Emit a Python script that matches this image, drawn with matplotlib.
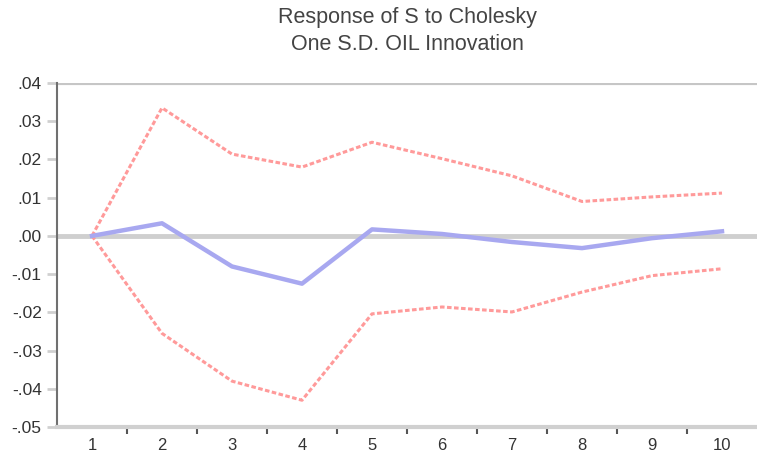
import matplotlib.pyplot as plt
from matplotlib.ticker import FixedLocator

plt.rcParams['font.family'] = ['Liberation Sans', 'DejaVu Sans']

# Dados
periodos = [1, 2, 3, 4, 5, 6, 7, 8, 9, 10]
resposta = [0.0, 0.0033, -0.008, -0.0125, 0.0017, 0.0005, -0.0016, -0.0032, -0.0006, 0.0012]
banda_sup = [0.0, 0.0335, 0.0214, 0.0180, 0.0245, 0.0202, 0.0157, 0.0090, 0.0102, 0.0112]
banda_inf = [0.0, -0.0255, -0.0380, -0.0430, -0.0204, -0.0186, -0.0199, -0.0147, -0.0104, -0.0086]

y_ticks = [0.04, 0.03, 0.02, 0.01, 0.0, -0.01, -0.02, -0.03, -0.04, -0.05]
y_labels = [".04", ".03", ".02", ".01", ".00", "-.01", "-.02", "-.03", "-.04", "-.05"]

fig = plt.figure(figsize=(7.57, 4.57), dpi=100)
ax = fig.add_axes([57 / 757, 1 - 427 / 457, 700 / 757, 344 / 457])

# Linhas de referência (zero e borda superior)
ax.axhline(0, color="#cfcfcf", lw=3.5, zorder=1)
ax.axhline(0.04, color="#c6c6c6", lw=3.0, zorder=1)

ax.plot(periodos, banda_sup, color="#ff9a9a", lw=2.2, ls=(0, (1.5, 0.8)), zorder=2)
ax.plot(periodos, banda_inf, color="#ff9a9a", lw=2.2, ls=(0, (1.5, 0.8)), zorder=2)
ax.plot(periodos, resposta, color="#a8a8f0", lw=3.2, zorder=3)

ax.set_xlim(0.5, 10.5)
ax.set_ylim(-0.05, 0.04)

ax.set_xticks(periodos)
ax.set_xticklabels([str(p) for p in periodos])
ax.xaxis.set_minor_locator(FixedLocator([p + 0.5 for p in periodos[:-1]]))
ax.tick_params(axis="x", which="major", length=0, pad=8, labelsize=12, colors="#333333")
ax.tick_params(axis="x", which="minor", length=5, width=1.5, color="#555555")

ax.set_yticks(y_ticks)
ax.set_yticklabels(y_labels)
ax.tick_params(axis="y", length=7, width=2, color="#d0d0d0", labelsize=12.5, pad=4, labelcolor="#333333")

for lado in ["top", "right"]:
    ax.spines[lado].set_visible(False)
ax.spines["left"].set_color("#707070")
ax.spines["left"].set_linewidth(1.5)
ax.spines["bottom"].set_color("#d0d0d0")
ax.spines["bottom"].set_linewidth(3)

fig.text(407 / 757, 1 - 18 / 457, "Response of S to Cholesky", ha="center", va="center",
         fontsize=15.5, color="#444444")
fig.text(407 / 757, 1 - 44 / 457, "One S.D. OIL Innovation", ha="center", va="center",
         fontsize=15.5, color="#444444")

fig.savefig("out.png", dpi=100)
